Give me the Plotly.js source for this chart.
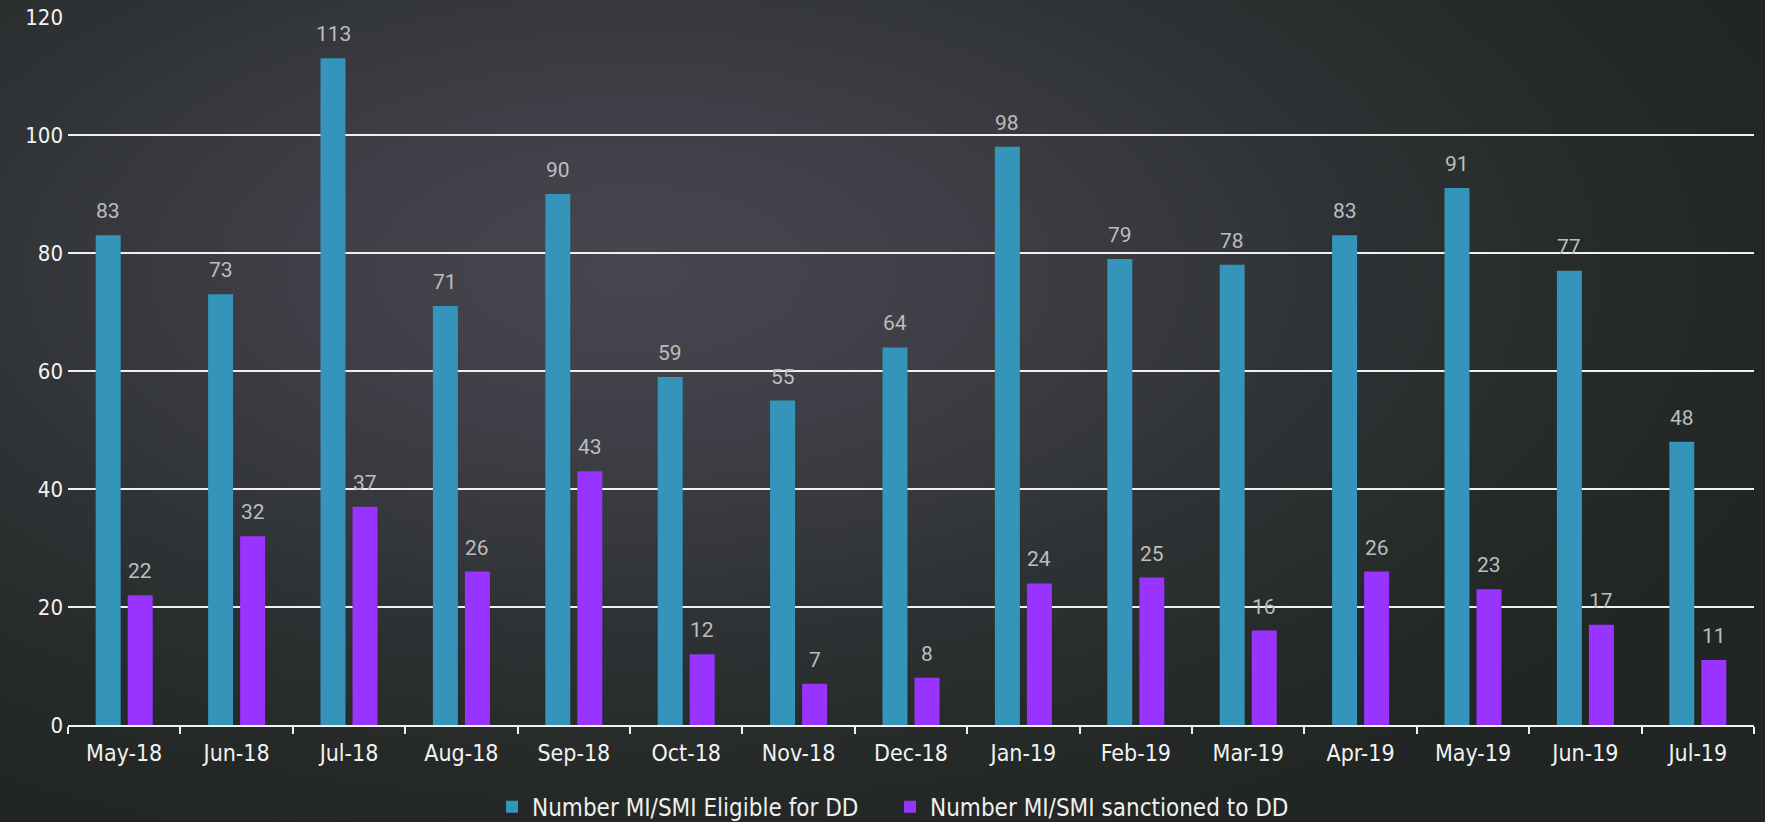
<!DOCTYPE html>
<html>
<head>
<meta charset="utf-8">
<script src="https://cdn.plot.ly/plotly-3.0.1.min.js"></script>
<style>
  html, body { margin: 0; padding: 0; width: 1765px; height: 822px; overflow: hidden; }
  body {
    background: radial-gradient(ellipse 70% 75% at 36% 33%, #46464f 0%, #3e3f46 28%, #303336 55%, #252927 82%, #212523 100%);
  }
  #chart { width: 1765px; height: 822px; }
</style>
</head>
<body>
<div id="chart"></div>
<script>
const months = ["May-18","Jun-18","Jul-18","Aug-18","Sep-18","Oct-18","Nov-18","Dec-18","Jan-19","Feb-19","Mar-19","Apr-19","May-19","Jun-19","Jul-19"];
const eligible = [83, 73, 113, 71, 90, 59, 55, 64, 98, 79, 78, 83, 91, 77, 48];
const sanctioned = [22, 32, 37, 26, 43, 12, 7, 8, 24, 25, 16, 26, 23, 17, 11];
const seriesNames = ["Number MI/SMI Eligible for DD", "Number MI/SMI sanctioned to DD"];
const yTicks = [0, 20, 40, 60, 80, 100, 120];

const tickFont = "DejaVu Sans Condensed, Roboto Condensed, DejaVu Sans, sans-serif";
const labelFont = "Roboto, Noto Sans, sans-serif";

const traces = [
  { type: "bar", name: seriesNames[0], x: months, y: eligible,
    marker: { color: "#3494ba" }, hoverinfo: "x+y" },
  { type: "bar", name: seriesNames[1], x: months, y: sanctioned,
    marker: { color: "#9933ff" }, hoverinfo: "x+y" }
];

const annotations = [];
function addLabels(vals, shift) {
  vals.forEach((v, i) => {
    annotations.push({
      x: months[i], y: v, xref: "x", yref: "y",
      text: String(v), showarrow: false,
      xanchor: "center", yanchor: "bottom",
      xshift: shift, yshift: 10,
      font: { family: labelFont, size: 21, color: "#bdbdbd" }
    });
  });
}
addLabels(eligible, -16);
addLabels(sanctioned, 16);

const layout = {
  width: 1765, height: 822,
  paper_bgcolor: "rgba(0,0,0,0)",
  plot_bgcolor: "rgba(0,0,0,0)",
  margin: { l: 68, r: 11, t: 17, b: 97, autoexpand: false },
  barmode: "group",
  bargap: 0.43,
  bargroupgap: 0.22,
  showlegend: true,
  legend: {
    orientation: "h", x: 0.2515, xanchor: "left", y: -0.116, yanchor: "middle",
    font: { family: tickFont, size: 24, color: "#f0f0f0" },
    itemwidth: 30, entrywidth: 353, entrywidthmode: "pixels", traceorder: "normal"
  },
  xaxis: {
    type: "category",
    showline: true, linecolor: "#f2f2f2", linewidth: 2,
    ticks: "outside", tickson: "boundaries", ticklen: 7, tickwidth: 2, tickcolor: "#f2f2f2",
    ticklabelstandoff: 6,
    tickfont: { family: tickFont, size: 23, color: "#f2f2f2" },
    showgrid: false, zeroline: false, fixedrange: true
  },
  yaxis: {
    range: [0, 120],
    tickvals: yTicks, ticktext: yTicks.map(String),
    showgrid: true, gridcolor: "#f0f0f0", gridwidth: 2,
    zeroline: false, showline: false,
    ticks: "", ticklabelstandoff: 4,
    tickfont: { family: tickFont, size: 22, color: "#f2f2f2" },
    fixedrange: true
  },
  annotations: annotations
};

Plotly.newPlot("chart", traces, layout, { displayModeBar: false, staticPlot: true });
</script>
</body>
</html>
